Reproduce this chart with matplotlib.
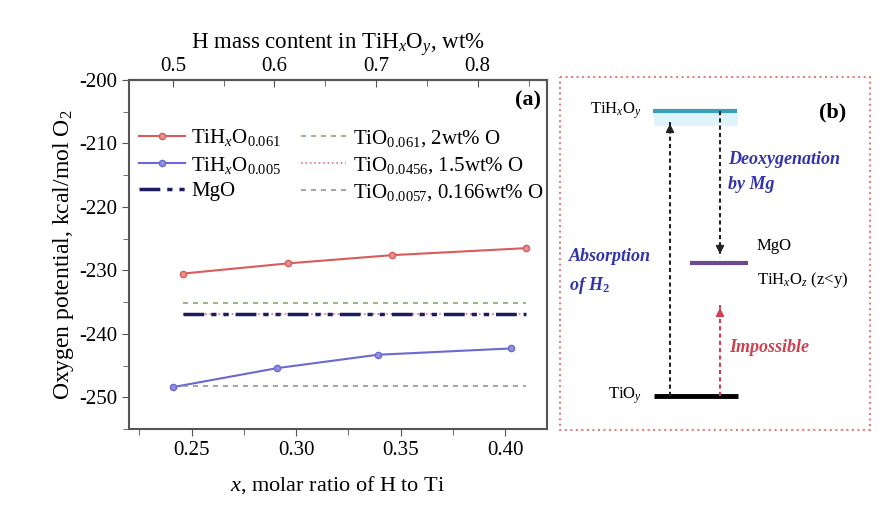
import numpy as np
import matplotlib as mpl
mpl.use('Agg')
import matplotlib.pyplot as plt
from matplotlib.ticker import MultipleLocator
from matplotlib.patches import Rectangle

plt.rcParams['font.family'] = ['Liberation Serif', 'DejaVu Serif']
plt.rcParams['mathtext.fontset'] = 'custom'
plt.rcParams['mathtext.rm'] = 'Liberation Serif'
plt.rcParams['mathtext.it'] = 'Liberation Serif:italic'
plt.rcParams['mathtext.bf'] = 'Liberation Serif:bold'
plt.rcParams['axes.unicode_minus'] = False

# panel (a) data
x_hi = [0.246, 0.296, 0.346, 0.410]
y_hi = [-230.5, -228.9, -227.6, -226.5]       # TiHxO0.061
x_lo = [0.241, 0.291, 0.339, 0.403]
y_lo = [-248.4, -245.4, -243.3, -242.3]       # TiHxO0.005
mgo = -236.8
tio_061 = -235.2
tio_0456 = -236.8
tio_0057 = -248.2

wt_ticks = [0.5, 0.6, 0.7, 0.8]
M_TiO = 47.867 + 16 * 0.03


def x2wt(x):
    x = np.asarray(x, dtype=float)
    return 100 * 1.008 * x / (M_TiO + 1.008 * x)


def wt2x(w):
    w = np.asarray(w, dtype=float)
    return w * M_TiO / (1.008 * (100 - w))


fig = plt.figure(figsize=(8.88, 5.11), dpi=100)
ax = fig.add_axes([129/888, 82/511, 418/888, 349/511])

ax.plot(x_hi, y_hi, '-o', color='#d85c5c', lw=1.5, ms=4.5, mfc='#e89090', mec='#d85c5c',
        label='TiH$_x$O$_{0.061}$')
ax.plot(x_lo, y_lo, '-o', color='#6a6ad0', lw=1.5, ms=4.5, mfc='#9090e0', mec='#6a6ad0',
        label='TiH$_x$O$_{0.005}$')
ax.plot([x_hi[0], x_hi[-1]], [mgo, mgo], color='#1c1c5e', lw=2.5,
        dashes=(6, 2, 1.5, 2, 1.5, 2), label='MgO')
ax.plot([x_hi[0], x_hi[-1]], [tio_061, tio_061], color='#88aa66', lw=1.2, dashes=(3, 3),
        label='TiO$_{0.061}$, 2wt% O')
ax.plot([x_hi[0], x_hi[-1]], [tio_0456, tio_0456], color='#e07090', lw=1.2, ls=':',
        label='TiO$_{0.0456}$, 1.5wt% O', zorder=1)
ax.plot([x_hi[0], x_hi[-1]], [tio_0057, tio_0057], color='#8a9a8a', lw=1.2, dashes=(3, 3),
        label='TiO$_{0.0057}$, 0.166wt% O')

ax.set_xlim(0.22, 0.42)
ax.set_ylim(-255, -200)
ax.xaxis.set_major_locator(MultipleLocator(0.05))
ax.xaxis.set_minor_locator(MultipleLocator(0.025))
ax.yaxis.set_major_locator(MultipleLocator(10))
ax.yaxis.set_minor_locator(MultipleLocator(5))
ax.set_xticks([0.25, 0.30, 0.35, 0.40])
ax.set_xticklabels(['0.25', '0.30', '0.35', '0.40'])
ax.tick_params(which='both', direction='out', labelsize=15, color='#555555', top=False, right=False)
ax.tick_params(which='major', length=5)
ax.tick_params(which='minor', length=4)
for s in ax.spines.values():
    s.set_color('#555555')
    s.set_linewidth(1.5)

ax.set_xlabel('$x$, molar ratio of H to Ti', fontsize=16, labelpad=10)
ax.set_ylabel('Oxygen potential, kcal/mol O$_2$', fontsize=17, labelpad=2)

sec = ax.secondary_xaxis('top', functions=(x2wt, wt2x))
sec.set_xticks(wt_ticks)
sec.set_xticklabels(['0.5', '0.6', '0.7', '0.8'])
sec.xaxis.set_minor_locator(MultipleLocator(0.05))
sec.tick_params(which='both', direction='in', labelsize=15, color='#555555', pad=3)
sec.tick_params(which='major', length=5)
sec.tick_params(which='minor', length=4)
sec.spines['top'].set_color('#555555')
sec.spines['top'].set_linewidth(1.5)
sec.set_xlabel('H mass content in TiH$_x$O$_y$, wt%', fontsize=16.5, labelpad=6)

ax.text(0.985, 0.94, '(a)', transform=ax.transAxes, ha='right', va='center',
        fontsize=16, fontweight='bold')

ax.legend(ncol=2, loc='upper left', bbox_to_anchor=(-0.005, 0.9), frameon=False,
          fontsize=15, handlelength=2.2, handletextpad=0.3, columnspacing=0.9,
          labelspacing=0.3, borderaxespad=0.2)

# panel (b): schematic drawn in figure pixel coordinates
axb = fig.add_axes([0, 0, 1, 1])
axb.set_xlim(0, 888)
axb.set_ylim(511, 0)
axb.axis('off')
axb.patch.set_visible(False)

axb.add_patch(Rectangle((560, 77), 310, 353, fill=False, ec='#dd8088', lw=1.5, ls=':'))

lvl_top, lvl_mid, lvl_bot = 111, 263, 396

axb.add_patch(Rectangle((654, lvl_top), 84, 15, fc='#dff5fb', ec='none'))
axb.plot([653, 737], [lvl_top, lvl_top], color='#3aa0b5', lw=3, solid_capstyle='butt')
axb.plot([690, 748], [lvl_mid, lvl_mid], color='#6b4a8f', lw=3, solid_capstyle='butt')
axb.plot([654, 738], [lvl_bot, lvl_bot], color='black', lw=3.5, solid_capstyle='butt')


def dashed_arrow(x, y0, y1, color):
    axb.plot([x, x], [y0, y1], color=color, lw=1.5, dashes=(2, 1.5))
    d = 1 if y1 > y0 else -1
    axb.annotate('', xy=(x, y1), xytext=(x, y1 - d * 8),
                 arrowprops=dict(arrowstyle='-|>', color=color, lw=1.2, mutation_scale=12))


dashed_arrow(670, lvl_bot, 121, '#222222')
dashed_arrow(720, lvl_top, 257, '#222222')
dashed_arrow(720, lvl_bot, 305, '#d04050')

axb.text(642, lvl_top, 'TiH$_x$O$_y$', ha='right', va='center', fontsize=12)
axb.text(642, lvl_bot, 'TiO$_y$', ha='right', va='center', fontsize=12)
axb.text(757, 246, 'MgO', ha='left', va='center', fontsize=12)
axb.text(757, 280, 'TiH$_x$O$_z$ (z<y)', ha='left', va='center', fontsize=12)
axb.text(833, 112, '(b)', ha='center', va='center', fontsize=16, fontweight='bold')
axb.text(728, 172, 'Deoxygenation\nby Mg', ha='left', va='center', fontsize=13,
         fontweight='bold', style='italic', color='#3333aa', linespacing=1.65)
axb.text(569, 272, 'Absorption\nof H$_\\mathbf{2}$', ha='left', va='center', fontsize=13,
         fontweight='bold', style='italic', color='#3333aa', linespacing=1.65)
axb.text(729, 347, 'Impossible', ha='left', va='center', fontsize=13,
         fontweight='bold', style='italic', color='#d04050')

fig.savefig('out.png', dpi=100)
